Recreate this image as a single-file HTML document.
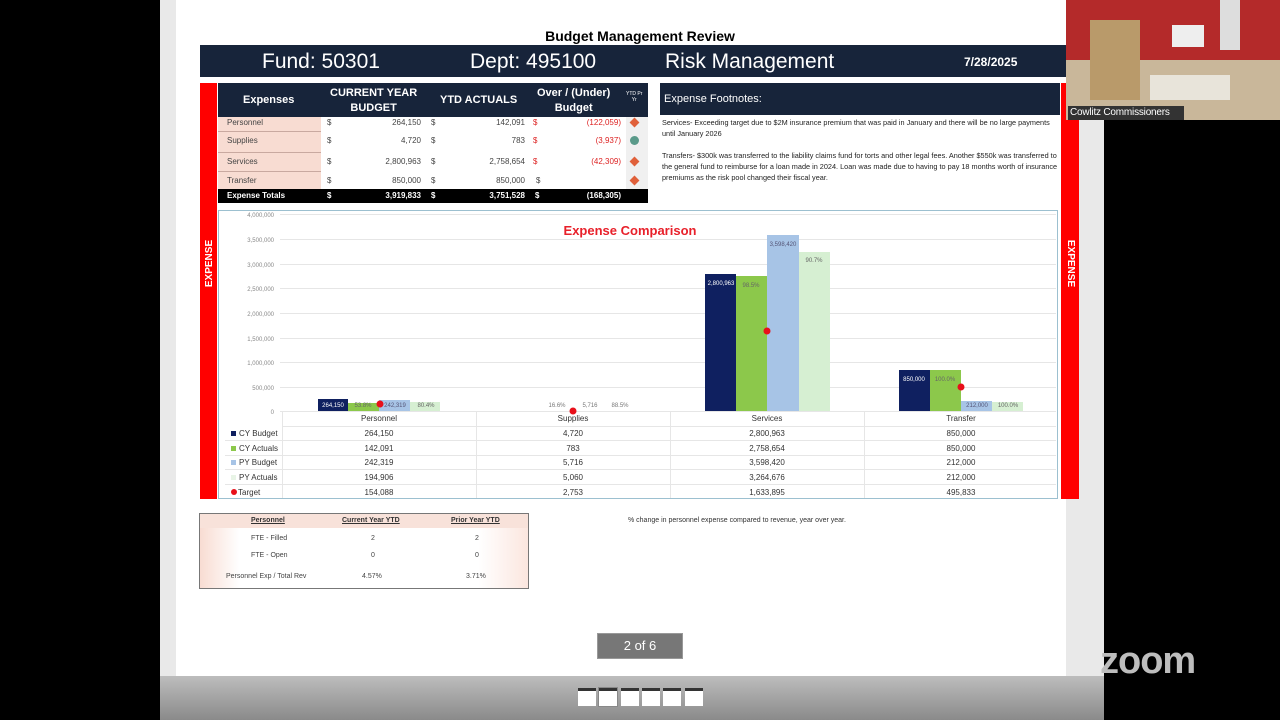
<!DOCTYPE html>
<html><head><meta charset="utf-8"><style>
*{margin:0;padding:0;box-sizing:border-box}
body{width:1280px;height:720px;background:#000;position:relative;overflow:hidden;font-family:"Liberation Sans",sans-serif}
.a{position:absolute}
.t{position:absolute;white-space:nowrap}
.s7{font-size:8px;color:#444}
</style></head><body>
<div class="a" style="left:160px;top:0;width:944px;height:676px;background:#e9e9e9"></div>
<div class="a" style="left:176px;top:0;width:890px;height:676px;background:#fff"></div>
<div class="a" style="left:160px;top:676px;width:944px;height:44px;background:linear-gradient(#bdbdbd,#8a8a8a)"></div>
<div class="a" style="left:578px;top:688px;width:18px;height:18px;background:#fff;border-top:3px solid #333"></div>
<div class="a" style="left:599px;top:688px;width:18px;height:18px;background:#fff;border-top:3px solid #333;outline:1px solid #888"></div>
<div class="a" style="left:621px;top:688px;width:18px;height:18px;background:#fff;border-top:3px solid #333"></div>
<div class="a" style="left:642px;top:688px;width:18px;height:18px;background:#fff;border-top:3px solid #333"></div>
<div class="a" style="left:663px;top:688px;width:18px;height:18px;background:#fff;border-top:3px solid #333"></div>
<div class="a" style="left:685px;top:688px;width:18px;height:18px;background:#fff;border-top:3px solid #333"></div>
<div class="t" style="left:1100px;top:640px;font-size:38px;color:#bdbdbd;font-weight:bold;letter-spacing:-1px">zoom</div>
<div class="t" style="left:0;width:1280px;text-align:center;top:28px;font-size:14px;font-weight:bold;color:#000">Budget Management Review</div>
<div class="a" style="left:200px;top:45px;width:866px;height:32px;background:#17243a"></div>
<div class="t" style="left:262px;top:50px;font-size:21px;color:#fff">Fund: 50301</div>
<div class="t" style="left:470px;top:50px;font-size:21px;color:#fff">Dept: 495100</div>
<div class="t" style="left:665px;top:50px;font-size:21px;color:#fff">Risk Management</div>
<div class="t" style="left:964px;top:55px;font-size:12px;font-weight:bold;color:#fff">7/28/2025</div>
<div class="a" style="left:200px;top:83px;width:17px;height:416px;background:#f00"></div>
<div class="a" style="left:1061px;top:83px;width:18px;height:416px;background:#f00"></div>
<div class="t" style="left:186px;top:258px;font-size:10px;font-weight:bold;color:#fff;transform:rotate(-90deg)">EXPENSE</div>
<div class="t" style="left:1047px;top:258px;font-size:10px;font-weight:bold;color:#fff;transform:rotate(90deg)">EXPENSE</div>
<!-- webcam (on top) -->
<div class="a" style="left:1066px;top:0;width:214px;height:120px;background:#b42a2a"></div>
<div class="a" style="left:1066px;top:60px;width:214px;height:60px;background:#c9b79a"></div>
<div class="a" style="left:1090px;top:20px;width:50px;height:80px;background:#b99a6a"></div>
<div class="a" style="left:1172px;top:25px;width:32px;height:22px;background:#eee"></div>
<div class="a" style="left:1150px;top:75px;width:80px;height:25px;background:#e8e4da"></div>
<div class="a" style="left:1220px;top:0;width:20px;height:50px;background:#ddd"></div>
<div class="a" style="left:1068px;top:106px;width:116px;height:14px;background:#333"></div>
<div class="t" style="left:1070px;top:107px;font-size:10px;color:#fff;letter-spacing:-0.2px">Cowlitz Commissioners</div>
<!-- expense table -->
<div class="a" style="left:218px;top:83px;width:430px;height:34px;background:#17243a"></div>
<div class="t" style="left:243px;top:94px;font-size:11px;font-weight:bold;color:#fff">Expenses</div>
<div class="t" style="left:330px;top:86px;font-size:11px;font-weight:bold;color:#fff;text-align:center;line-height:15px">CURRENT YEAR<br>BUDGET</div>
<div class="t" style="left:440px;top:94px;font-size:11px;font-weight:bold;color:#fff">YTD ACTUALS</div>
<div class="t" style="left:537px;top:86px;font-size:11px;font-weight:bold;color:#fff;text-align:center;line-height:15px">Over / (Under)<br>Budget</div>
<div class="t" style="left:626px;top:91px;font-size:5px;color:#fff;text-align:center">YTD Pr<br>Yr</div>
<div class="a" style="left:218px;top:117px;width:103px;height:72px;background:#f8dcd2"></div>
<div class="a" style="left:218px;top:131px;width:103px;height:1px;background:#c9a9a0"></div>
<div class="a" style="left:218px;top:152px;width:103px;height:1px;background:#c9a9a0"></div>
<div class="a" style="left:218px;top:171px;width:103px;height:1px;background:#c9a9a0"></div>
<div class="a" style="left:626px;top:117px;width:22px;height:72px;background:#f0f0f0"></div>
<div class="t s7" style="left:227px;top:118px">Personnel</div>
<div class="t s7" style="left:227px;top:136px">Supplies</div>
<div class="t s7" style="left:227px;top:157px">Services</div>
<div class="t s7" style="left:227px;top:176px">Transfer</div>
<div class="t s7" style="left:327px;top:118px">$</div><div class="t s7" style="left:327px;top:136px">$</div><div class="t s7" style="left:327px;top:157px">$</div><div class="t s7" style="left:327px;top:176px">$</div>
<div class="t s7" style="left:431px;top:118px">$</div><div class="t s7" style="left:431px;top:136px">$</div><div class="t s7" style="left:431px;top:157px">$</div><div class="t s7" style="left:431px;top:176px">$</div>
<div class="t s7" style="left:533px;top:118px;color:#d22">$</div><div class="t s7" style="left:533px;top:136px;color:#d22">$</div><div class="t s7" style="left:533px;top:157px;color:#d22">$</div><div class="t s7" style="left:536px;top:176px">$</div>
<div class="t s7" style="left:360px;width:61px;text-align:right;top:118px">264,150</div>
<div class="t s7" style="left:360px;width:61px;text-align:right;top:136px">4,720</div>
<div class="t s7" style="left:360px;width:61px;text-align:right;top:157px">2,800,963</div>
<div class="t s7" style="left:360px;width:61px;text-align:right;top:176px">850,000</div>
<div class="t s7" style="left:460px;width:65px;text-align:right;top:118px">142,091</div>
<div class="t s7" style="left:460px;width:65px;text-align:right;top:136px">783</div>
<div class="t s7" style="left:460px;width:65px;text-align:right;top:157px">2,758,654</div>
<div class="t s7" style="left:460px;width:65px;text-align:right;top:176px">850,000</div>
<div class="t s7" style="left:560px;width:61px;text-align:right;top:118px;color:#d22">(122,059)</div>
<div class="t s7" style="left:560px;width:61px;text-align:right;top:136px;color:#d22">(3,937)</div>
<div class="t s7" style="left:560px;width:61px;text-align:right;top:157px;color:#d22">(42,309)</div>
<div class="a" style="left:631px;top:119px;width:7px;height:7px;background:#e0603a;transform:rotate(45deg)"></div>
<div class="a" style="left:630px;top:136px;width:9px;height:9px;background:#5a9a8a;border-radius:50%"></div>
<div class="a" style="left:631px;top:158px;width:7px;height:7px;background:#e0603a;transform:rotate(45deg)"></div>
<div class="a" style="left:631px;top:177px;width:7px;height:7px;background:#e0603a;transform:rotate(45deg)"></div>
<div class="a" style="left:218px;top:189px;width:430px;height:14px;background:#000"></div>
<div class="t" style="left:227px;top:191px;font-size:8px;font-weight:bold;color:#fff">Expense Totals</div>
<div class="t" style="left:327px;top:191px;font-size:8px;font-weight:bold;color:#fff">$</div>
<div class="t" style="left:360px;width:61px;text-align:right;top:191px;font-size:8px;font-weight:bold;color:#fff">3,919,833</div>
<div class="t" style="left:431px;top:191px;font-size:8px;font-weight:bold;color:#fff">$</div>
<div class="t" style="left:460px;width:65px;text-align:right;top:191px;font-size:8px;font-weight:bold;color:#fff">3,751,528</div>
<div class="t" style="left:535px;top:191px;font-size:8px;font-weight:bold;color:#fff">$</div>
<div class="t" style="left:560px;width:61px;text-align:right;top:191px;font-size:8px;font-weight:bold;color:#fff">(168,305)</div>
<div class="a" style="left:660px;top:83px;width:400px;height:32px;background:#17243a"></div>
<div class="t" style="left:664px;top:93px;font-size:11px;color:#fff">Expense Footnotes:</div>
<div class="a" style="left:662px;top:117px;width:396px;font-size:7.3px;color:#222;line-height:11px">Services- Exceeding target due to $2M insurance premium that was paid in January and there will be no large payments until January 2026<br><br>Transfers- $300k was transferred to the liability claims fund for torts and other legal fees. Another $550k was transferred to the general fund to reimburse for a loan made in 2024. Loan was made due to having to pay 18 months worth of insurance premiums as the risk pool changed their fiscal year.</div>
<div class="a" style="left:218px;top:210px;width:840px;height:289px;border:1px solid #9cc0d0;background:#fff"></div>
<svg class="a" style="left:0;top:0" width="1280" height="720">
<g stroke="#e6e6e6" stroke-width="1">
<line x1="280" x2="1056" y1="214.5" y2="214.5"/><line x1="280" x2="1056" y1="239.5" y2="239.5"/><line x1="280" x2="1056" y1="264.5" y2="264.5"/><line x1="280" x2="1056" y1="288.5" y2="288.5"/><line x1="280" x2="1056" y1="313.5" y2="313.5"/><line x1="280" x2="1056" y1="338.5" y2="338.5"/><line x1="280" x2="1056" y1="362.5" y2="362.5"/><line x1="280" x2="1056" y1="387.5" y2="387.5"/><line x1="280" x2="1056" y1="411.5" y2="411.5"/>
<line x1="282" x2="1056" y1="426.5" y2="426.5"/><line x1="225" x2="1056" y1="440.5" y2="440.5"/><line x1="225" x2="1056" y1="455.5" y2="455.5"/><line x1="225" x2="1056" y1="469.5" y2="469.5"/><line x1="225" x2="1056" y1="484.5" y2="484.5"/>
<line x1="282.5" x2="282.5" y1="412" y2="498"/><line x1="476.5" x2="476.5" y1="412" y2="498"/><line x1="670.5" x2="670.5" y1="412" y2="498"/><line x1="864.5" x2="864.5" y1="412" y2="498"/>
</g>
<g font-family="Liberation Sans" font-size="6" fill="#888" text-anchor="end">
<text x="274" y="217">4,000,000</text><text x="274" y="242">3,500,000</text><text x="274" y="267">3,000,000</text><text x="274" y="291">2,500,000</text><text x="274" y="316">2,000,000</text><text x="274" y="341">1,500,000</text><text x="274" y="365">1,000,000</text><text x="274" y="390">500,000</text><text x="274" y="414">0</text>
</g>
<text x="630" y="235" font-family="Liberation Sans" font-size="13" font-weight="bold" fill="#e8202a" text-anchor="middle">Expense Comparison</text>
<rect x="318" y="399" width="30" height="12" fill="#0f2060"/>
<rect x="348" y="403" width="31" height="8" fill="#8cc84b"/>
<rect x="379" y="400" width="31" height="11" fill="#a7c4e6"/>
<rect x="410" y="402" width="30" height="9" fill="#d6efd2"/>
<rect x="705" y="274" width="31" height="137" fill="#0f2060"/>
<rect x="736" y="276" width="31" height="135" fill="#8cc84b"/>
<rect x="767" y="235" width="32" height="176" fill="#a7c4e6"/>
<rect x="799" y="252" width="31" height="159" fill="#d6efd2"/>
<rect x="899" y="370" width="31" height="41" fill="#0f2060"/>
<rect x="930" y="370" width="31" height="41" fill="#8cc84b"/>
<rect x="961" y="401" width="31" height="10" fill="#a7c4e6"/>
<rect x="992" y="402" width="31" height="9" fill="#d6efd2"/>
<g font-family="Liberation Sans" font-size="6" text-anchor="middle">
<text x="333" y="407" fill="#fff">264,150</text><text x="363" y="407" fill="#666">53.8%</text><text x="395" y="407" fill="#557">242,319</text><text x="426" y="407" fill="#666">80.4%</text>
<text x="557" y="407" fill="#777">16.6%</text><text x="590" y="407" fill="#777">5,716</text><text x="620" y="407" fill="#777">88.5%</text>
<text x="721" y="285" fill="#fff">2,800,963</text><text x="751" y="287" fill="#666">98.5%</text><text x="783" y="246" fill="#557">3,598,420</text><text x="814" y="262" fill="#666">90.7%</text>
<text x="914" y="381" fill="#fff">850,000</text><text x="945" y="381" fill="#666">100.0%</text><text x="977" y="407" fill="#557">212,000</text><text x="1008" y="407" fill="#666">100.0%</text>
</g>
<g fill="#e8101a"><circle cx="380" cy="404" r="3.5"/><circle cx="573" cy="411" r="3.5"/><circle cx="767" cy="331" r="3.5"/><circle cx="961" cy="387" r="3.5"/></g>
<g font-family="Liberation Sans" font-size="8" fill="#333" text-anchor="middle">
<text x="379" y="421">Personnel</text><text x="573" y="421">Supplies</text><text x="767" y="421">Services</text><text x="961" y="421">Transfer</text>
<text x="379" y="436">264,150</text><text x="573" y="436">4,720</text><text x="767" y="436">2,800,963</text><text x="961" y="436">850,000</text>
<text x="379" y="451">142,091</text><text x="573" y="451">783</text><text x="767" y="451">2,758,654</text><text x="961" y="451">850,000</text>
<text x="379" y="465">242,319</text><text x="573" y="465">5,716</text><text x="767" y="465">3,598,420</text><text x="961" y="465">212,000</text>
<text x="379" y="480">194,906</text><text x="573" y="480">5,060</text><text x="767" y="480">3,264,676</text><text x="961" y="480">212,000</text>
<text x="379" y="495">154,088</text><text x="573" y="495">2,753</text><text x="767" y="495">1,633,895</text><text x="961" y="495">495,833</text>
</g>
<rect x="231" y="431" width="5" height="5" fill="#0f2060"/><rect x="231" y="446" width="5" height="5" fill="#8cc84b"/><rect x="231" y="460" width="5" height="5" fill="#a7c4e6"/><rect x="231" y="475" width="5" height="5" fill="#e8f4e6"/><circle cx="234" cy="492" r="3" fill="#e8101a"/>
<g font-family="Liberation Sans" font-size="8" fill="#333">
<text x="239" y="436">CY Budget</text><text x="239" y="451">CY Actuals</text><text x="239" y="465">PY Budget</text><text x="239" y="480">PY Actuals</text><text x="238" y="495">Target</text>
</g>
</svg>
<div class="a" style="left:199px;top:513px;width:330px;height:76px;border:1px solid #777;background:linear-gradient(90deg,#f8dcd2 0,#fff 12%,#fff 85%,#fbe6df 100%)"></div>
<div class="a" style="left:200px;top:514px;width:328px;height:14px;background:#f8e2da"></div>
<div class="t" style="left:251px;top:517px;font-size:7px;font-weight:bold;color:#333;text-decoration:underline">Personnel</div>
<div class="t" style="left:342px;top:517px;font-size:7px;font-weight:bold;color:#333;text-decoration:underline">Current Year YTD</div>
<div class="t" style="left:451px;top:517px;font-size:7px;font-weight:bold;color:#333;text-decoration:underline">Prior Year YTD</div>
<div class="t" style="left:251px;top:535px;font-size:7px;color:#444">FTE - Filled</div>
<div class="t" style="left:371px;top:535px;font-size:7px;color:#444">2</div>
<div class="t" style="left:475px;top:535px;font-size:7px;color:#444">2</div>
<div class="t" style="left:251px;top:552px;font-size:7px;color:#444">FTE - Open</div>
<div class="t" style="left:371px;top:552px;font-size:7px;color:#444">0</div>
<div class="t" style="left:475px;top:552px;font-size:7px;color:#444">0</div>
<div class="t" style="left:226px;top:573px;font-size:7px;color:#444">Personnel Exp / Total Rev</div>
<div class="t" style="left:362px;top:573px;font-size:7px;color:#444">4.57%</div>
<div class="t" style="left:466px;top:573px;font-size:7px;color:#444">3.71%</div>
<div class="t" style="left:628px;top:517px;font-size:7px;color:#333">% change in personnel expense compared to revenue, year over year.</div>
<div class="a" style="left:597px;top:633px;width:86px;height:26px;background:#777;border:1px solid #999"></div>
<div class="t" style="left:597px;width:86px;text-align:center;top:638px;font-size:13px;color:#fff">2 of 6</div>
</body></html>
